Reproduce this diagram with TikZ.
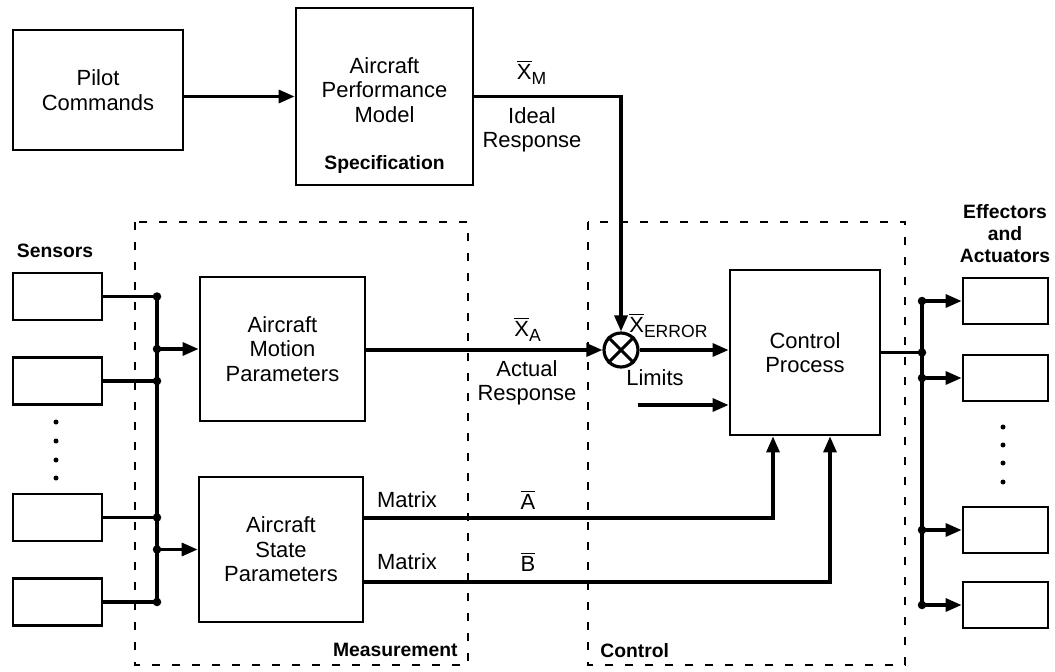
\documentclass[tikz,border=0pt]{standalone}
\usepackage{amsmath}
\usepackage{fontspec}
\setmainfont{Liberation Sans}
\usetikzlibrary{arrows.meta}

\newcommand{\vecsym}[2]{$\overline{\text{#1}}_{\text{\fontsize{10}{12}\selectfont #2}}$}

\begin{document}
\begin{tikzpicture}[x=0.02cm,y=-0.02cm,
  blk/.style={draw,line width=1.6pt,align=center,inner sep=0pt,font=\fontsize{12.5}{14}\selectfont},
  txt/.style={align=center,inner sep=0pt,font=\fontsize{12.5}{14}\selectfont},
  bld/.style={align=center,inner sep=0pt,font=\fontsize{11}{12.5}\selectfont\bfseries},
  wire/.style={line width=1.8pt},
  arr/.style={wire,-{Triangle[length=0.32cm,width=0.26cm]}},
  region/.style={line width=1.4pt,dash pattern=on 0.16cm off 0.24cm},
  sensbox/.style={blk,minimum width=1.78cm,minimum height=0.94cm},
  effbox/.style={blk,minimum width=1.7cm,minimum height=0.92cm}
  ]
\useasboundingbox (0,0) rectangle (1055,672);
\coordinate (lbus) at (157,0);
\coordinate (rbus) at (922,0);
\coordinate (lim) at (638,405);
\coordinate (ajn) at (773,518);
\coordinate (bjn) at (830,582);

\node[blk,minimum width=3.4cm,minimum height=2.4cm] (pilot) at (98,90) {Pilot\\Commands};
\node[blk,minimum width=3.54cm,minimum height=3.54cm] (perf) at (384.5,96.5) {};
\node[txt] (perftxt) at (384.5,90) {Aircraft\\Performance\\Model};
\node[bld] (spec) at (384.5,165) {Specification};
\node[blk,minimum width=3.3cm,minimum height=2.88cm] (motion) at (282.5,349) {Aircraft\\Motion\\Parameters};
\node[blk,minimum width=3.28cm,minimum height=2.9cm] (state) at (281,549.5) {Aircraft\\State\\Parameters};
\node[blk,minimum width=3cm,minimum height=3.3cm] (ctrl) at (805,352.5) {Control\\Process};
\node[circle,draw,line width=1.8pt,minimum size=0.68cm,inner sep=0pt] (mul) at (621,350) {};
\draw[wire] (mul.north west) -- (mul.south east) (mul.north east) -- (mul.south west);

\node[bld] (senslbl) at (55,251) {Sensors};
\foreach \n/\y in {1/296.5,2/381,3/517.5,4/602}
  \node[sensbox] (s\n) at (57.5,\y) {};
\node[bld] (efflbl) at (1005,234) {Effectors\\and\\Actuators};
\foreach \n/\y in {1/301,2/378,3/530,4/605}
  \node[effbox] (e\n) at (1005.5,\y) {};
\foreach \y in {422,441,460,478} \fill (56,\y) circle (0.05cm);
\foreach \y in {427,445,463,482} \fill (1003,\y) circle (0.05cm);

\draw[region] (135,222) rectangle (468,665);
\draw[region] (588,222) rectangle (905,665);

\draw[arr] (pilot.east |- perf.west) -- (perf.west);
\draw[arr] (perf.east) -| (mul.north);
\draw[arr] (motion.east |- mul.west) -- (mul.west);
\draw[arr] (mul.east) -- (mul.east -| ctrl.west);
\draw[arr] (lim) -- (lim -| ctrl.west);
\draw[arr] (state.east |- ajn) -| (ctrl.south -| ajn);
\draw[arr] (state.east |- bjn) -| (ctrl.south -| bjn);

\foreach \n in {1,...,4} \draw[wire] (s\n.east) -- (s\n.east -| lbus);
\draw[wire] (s1.east -| lbus) -- (s4.east -| lbus);
\draw[arr] (motion.west -| lbus) -- (motion.west);
\draw[arr] (state.west -| lbus) -- (state.west);
\foreach \p in {s1.east,s2.east,s3.east,s4.east,motion.west,state.west}
  \fill (\p -| lbus) circle (0.085cm);

\draw[wire] (ctrl.east) -- (ctrl.east -| rbus);
\draw[wire] (e1.west -| rbus) -- (e4.west -| rbus);
\foreach \n in {1,...,4} \draw[arr] (e\n.west -| rbus) -- (e\n.west);
\foreach \p in {e1.west,e2.west,e3.west,e4.west,ctrl.east}
  \fill (\p -| rbus) circle (0.085cm);

\node[txt] (xm) at (532,72) {\vecsym{X}{M}};
\node[txt] (ideal) at (532,130) {Ideal\\Response};
\node[txt] (xa) at (528,329) {\vecsym{X}{A}};
\node[txt] (actual) at (527,383) {Actual\\Response};
\node[txt,anchor=west] (xerr) at (629,325) {\vecsym{X}{ERROR}};
\node[txt] (limlbl) at (655,378) {Limits};
\node[txt] (ma) at (407,500) {Matrix};
\node[txt] (mb) at (407,562) {Matrix};
\node[txt] (abar) at (528,500) {$\overline{\text{A}}$};
\node[txt] (bbar) at (528,562) {$\overline{\text{B}}$};
\node[bld,anchor=east] (meas) at (458,650) {Measurement};
\node[bld,anchor=west] (ctrllbl) at (600,651) {Control};
\end{tikzpicture}
\end{document}
